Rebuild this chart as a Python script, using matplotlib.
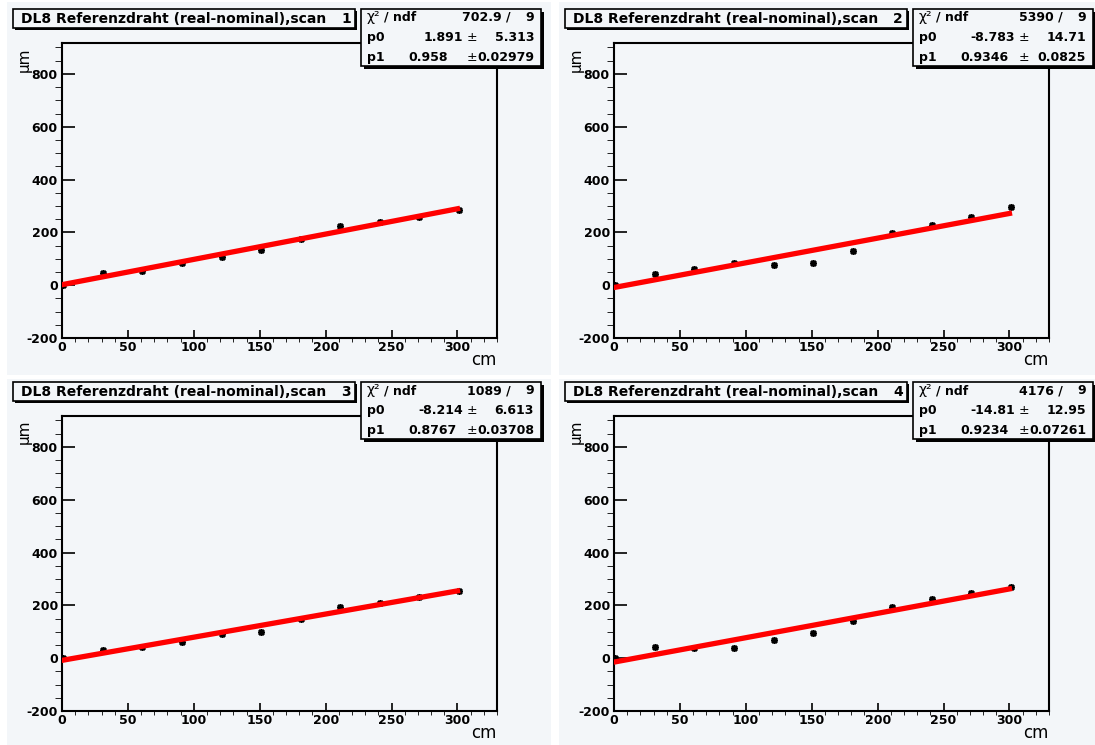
import numpy as np
import matplotlib
matplotlib.use('Agg')
import matplotlib.pyplot as plt
from matplotlib.patches import Rectangle

plt.rcParams['axes.unicode_minus'] = False

# wire positions along the reference wire (cm)
pos = [1, 31, 61, 91, 121, 151, 181, 211, 241, 271, 301]

# measured deviation real - nominal (um), one list per scan
scan1 = [2, 45, 54, 83, 106, 135, 175, 225, 238, 257, 286]
scan2 = [0, 41, 62, 85, 77, 85, 130, 197, 226, 257, 295]
scan3 = [0, 31, 41, 61, 92, 101, 150, 195, 210, 231, 255]
scan4 = [1, 44, 39, 40, 70, 96, 140, 195, 225, 247, 270]
scans = [scan1, scan2, scan3, scan4]

# linear fit results p0 + p1*x
chi2 = ['702.9', '5390', '1089', '4176']
ndf = [9, 9, 9, 9]
p0 = [1.891, -8.783, -8.214, -14.81]
p0_err = ['5.313', '14.71', '6.613', '12.95']
p1 = [0.958, 0.9346, 0.8767, 0.9234]
p1_err = ['0.02979', '0.0825', '0.03708', '0.07261']

W, H = 1095, 745
padcol = '#f3f6f9'
bold = dict(family='DejaVu Sans', fontweight='bold')
sbold = dict(family='DejaVu Sans', fontweight='bold', fontsize=9)

fig = plt.figure(figsize=(W / 100, H / 100), dpi=100)
fig.patch.set_facecolor('white')


def frac(x0, y0, x1, y1):
    return [x0 / W, 1 - y1 / H, (x1 - x0) / W, (y1 - y0) / H]


def rect(x0, y0, x1, y1, **kw):
    l, b, w, h = frac(x0, y0, x1, y1)
    fig.patches.append(Rectangle((l, b), w, h, transform=fig.transFigure, **kw))


def ftext(x, y, s, **kw):
    fig.text(x / W, 1 - y / H, s, zorder=7, **kw)


def shadow_box(x0, y0, x1, y1, d=3):
    rect(x0 + d, y0 + d, x1 + d, y1 + d, facecolor='black', edgecolor='none', zorder=5)
    rect(x0, y0, x1, y1, facecolor=padcol, edgecolor='black', linewidth=1.2, zorder=6)


pads = [(7, 2, 551, 375), (559, 2, 1095, 375), (7, 379, 551, 745), (559, 379, 1095, 745)]
offs = [(0, 0), (552, 0), (0, 373), (552, 373)]

for i in range(4):
    ox, oy = offs[i]
    rect(*pads[i], facecolor=padcol, edgecolor='none', zorder=-1)

    ax = fig.add_axes(frac(62 + ox, 43 + oy, 497 + ox, 338 + oy))
    ax.set_facecolor(padcol)
    ax.set_xlim(0, 330)
    ax.set_ylim(-200, 917)

    xs = np.array(pos)
    ax.plot(xs, scans[i], linestyle='none', marker=(8, 2, 0), markersize=5,
            markeredgewidth=1.2, color='black', zorder=3)
    xf = np.linspace(pos[0], pos[-1] - 1, 50)
    ax.plot(xf, p0[i] + p1[i] * xf, color='#ff0000', linewidth=3.8, zorder=4)

    ax.set_xticks(np.arange(0, 301, 50))
    ax.set_xticks(np.arange(0, 331, 10), minor=True)
    ax.set_yticks(np.arange(-200, 801, 200))
    ax.set_yticks(np.arange(-200, 901, 50), minor=True)
    ax.tick_params(direction='in', width=1.2, top=False, right=False,
                   labelsize=9, colors='black')
    ax.tick_params(axis='y', which='major', length=9, pad=3)
    ax.tick_params(axis='y', which='minor', length=5)
    ax.tick_params(axis='x', which='major', length=6, pad=2)
    ax.tick_params(axis='x', which='minor', length=3)
    for lab in ax.get_xticklabels() + ax.get_yticklabels():
        lab.set_fontweight('bold')
        lab.set_family('DejaVu Sans')
    for sp in ax.spines.values():
        sp.set_linewidth(1.5)

    # axis titles
    ftext(497 + ox, 365 + oy, 'cm', ha='right', va='baseline', fontsize=12,
          family='DejaVu Sans')
    ftext(24 + ox, 47 + oy, 'µm', ha='center', va='top', rotation=90, fontsize=11,
          family='DejaVu Sans')

    # title box
    shadow_box(13 + ox, 9 + oy, 355 + ox, 28 + oy, d=2)
    ftext(21 + ox, 23 + oy, 'DL8 Referenzdraht (real-nominal),scan',
          ha='left', va='baseline', fontsize=10, **bold)
    ftext(351 + ox, 23 + oy, str(i + 1), ha='right', va='baseline', fontsize=10, **bold)

    # fit statistics box
    shadow_box(361 + ox, 9 + oy, 541 + ox, 66 + oy)
    ftext(367 + ox, 21 + oy, 'χ²', ha='left', va='baseline', fontsize=10,
          family='DejaVu Sans')
    ftext(384 + ox, 21 + oy, '/ ndf', ha='left', va='baseline', **sbold)
    ftext(511 + ox, 21 + oy, chi2[i] + ' /', ha='right', va='baseline', **sbold)
    ftext(534 + ox, 21 + oy, str(ndf[i]), ha='right', va='baseline', **sbold)
    # p0 row: value right-aligned; p1 row: value left-aligned
    ftext(367 + ox, 41 + oy, 'p0', ha='left', va='baseline', **sbold)
    ftext(463 + ox, 41 + oy, f'{p0[i]:g}', ha='right', va='baseline', **sbold)
    ftext(367 + ox, 61 + oy, 'p1', ha='left', va='baseline', **sbold)
    ftext(408 + ox, 61 + oy, f'{p1[i]:g}', ha='left', va='baseline', **sbold)
    for err, yb in [(p0_err[i], 41), (p1_err[i], 61)]:
        ftext(467 + ox, yb + oy, '±', ha='left', va='baseline', fontsize=9,
              family='DejaVu Sans')
        ftext(534 + ox, yb + oy, err, ha='right', va='baseline', **sbold)

fig.savefig('out.png', dpi=100, facecolor='white')
